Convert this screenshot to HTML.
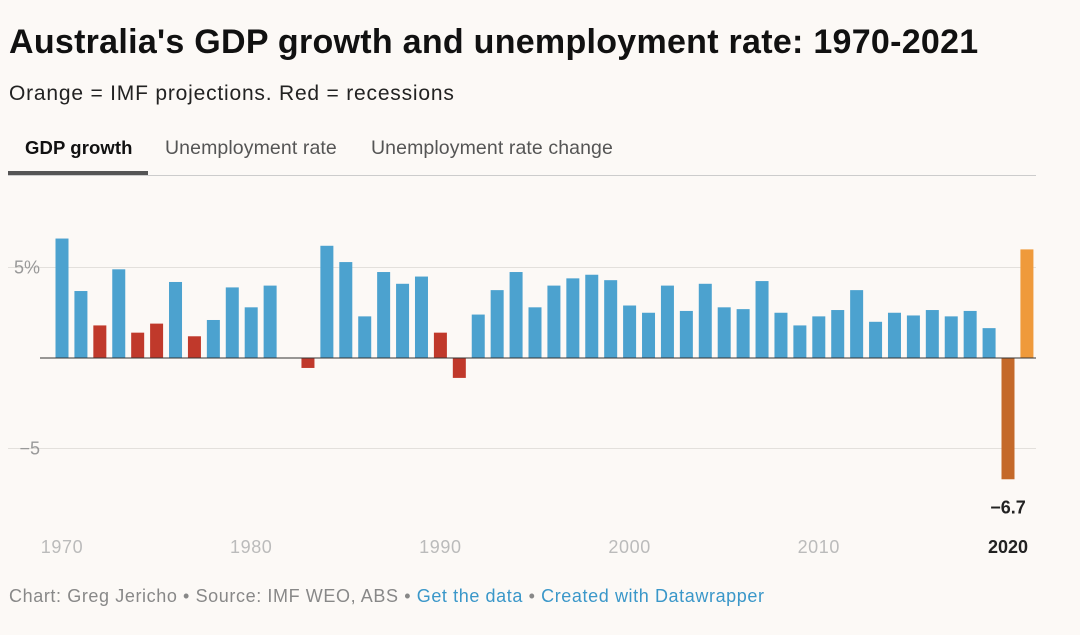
<!DOCTYPE html>
<html><head><meta charset="utf-8"><style>
body{margin:0;background:#fcf9f6;font-family:"Liberation Sans",sans-serif;width:1080px;height:635px;overflow:hidden;position:relative}
.t{position:absolute;left:9px;top:23px;font-size:34px;font-weight:bold;color:#111;letter-spacing:0.28px}
.s{position:absolute;left:9px;top:82px;font-size:21px;color:#222;letter-spacing:0.8px}
.tab{position:absolute;top:137px;font-size:19.5px;color:#555;letter-spacing:0.1px}
.f{position:absolute;left:9px;top:586px;font-size:18px;color:#888;letter-spacing:0.6px}
.f a{color:#3a97c9;text-decoration:none}
</style></head><body>
<div class="t">Australia's GDP growth and unemployment rate: 1970-2021</div>
<div class="s">Orange = IMF projections. Red = recessions</div>
<div class="tab" style="left:25px;color:#111;font-weight:bold;font-size:18.5px">GDP growth</div>
<div class="tab" style="left:165px">Unemployment rate</div>
<div class="tab" style="left:371px">Unemployment rate change</div>
<div style="position:absolute;left:8px;top:175px;width:1028px;height:1px;background:#ccc"></div>
<div style="position:absolute;left:8px;top:171px;width:140px;height:4px;background:#555"></div>
<svg id="c" width="1080" height="635" style="position:absolute;left:0;top:0"></svg>
<div class="f">Chart: Greg Jericho • Source: IMF WEO, ABS • <a>Get the data</a> • <a>Created with Datawrapper</a></div>
<script>
const years=[];for(let y=1970;y<=2021;y++)years.push(y);
const values=[6.6,3.7,1.8,4.9,1.4,1.9,4.2,1.2,2.1,3.9,2.8,4.0,0,-0.55,6.2,5.3,2.3,4.75,4.1,4.5,1.4,-1.1,2.4,3.75,4.75,2.8,4.0,4.4,4.6,4.3,2.9,2.5,4.0,2.6,4.1,2.8,2.7,4.25,2.5,1.8,2.3,2.65,3.75,2.0,2.5,2.35,2.65,2.3,2.6,1.65,-6.7,6.0];
const recessions=[1972,1974,1975,1977,1983,1990,1991];
const projections=[2021];
const yTicks=[5,-5];
const xTicks=[1970,1980,1990,2000,2010];
const ns="http://www.w3.org/2000/svg",svg=document.getElementById('c');
const y=v=>358-v*18.1, x=yr=>62+(yr-1970)*18.92;
function mk(t,a){const e=document.createElementNS(ns,t);for(const k in a)e.setAttribute(k,a[k]);svg.appendChild(e);return e;}
yTicks.forEach(v=>{const l=mk('line',{x1:8,x2:1036,y1:y(v),y2:y(v),stroke:'#e3e0dc'});


const t=mk('text',{x:40,y:y(v)+6,'text-anchor':'end','font-size':18,fill:'#999','font-family':'Liberation Sans'});t.textContent=v>0?v+'%':'\u2212'+Math.abs(v);

});
years.forEach((yr,i)=>{const v=values[i];if(v===0)return;
let col='#4ca2cf';if(recessions.includes(yr))col='#c0392b';if(projections.includes(yr))col='#ef9a3b';if(yr===2020)col='#c4692a';
const r=mk('rect',{x:x(yr)-6.5,width:13,y:Math.min(y(v),y(0)),height:Math.abs(y(v)-y(0)),fill:col});

});
const z=mk('line',{x1:40,x2:1036,y1:y(0),y2:y(0),stroke:'#333'});


xTicks.forEach(yr=>{const t=mk('text',{x:x(yr),y:553,'text-anchor':'middle','font-size':18,'letter-spacing':'0.6',fill:'#bbb','font-family':'Liberation Sans'});t.textContent=yr;

});
const i20=years.indexOf(2020);
const t2=mk('text',{x:x(2020),y:553,'text-anchor':'middle','font-size':18,'font-weight':'bold',fill:'#222','font-family':'Liberation Sans'});t2.textContent='2020';


const lb=mk('text',{x:x(2020),y:y(values[i20])+34,'text-anchor':'middle','font-size':18,'font-weight':'bold',fill:'#222','font-family':'Liberation Sans'});lb.textContent='\u2212'+Math.abs(values[i20]);


</script>
</body></html>
